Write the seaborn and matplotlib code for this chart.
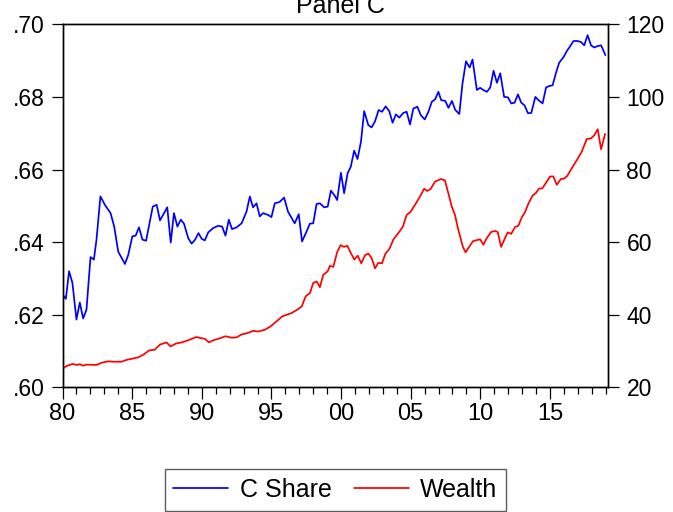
import matplotlib
matplotlib.use("Agg")
import matplotlib.pyplot as plt
import matplotlib.ticker as mticker
import seaborn as sns
import pandas as pd

# C Share (left axis)
share_year = [
    1980.00, 1980.24, 1980.47, 1980.71, 1981.00, 1981.24, 1981.48, 1981.72,
    1982.01, 1982.25, 1982.44, 1982.72, 1983.04, 1983.45, 1983.71, 1984.00,
    1984.48, 1984.72, 1985.01, 1985.25, 1985.49, 1985.74, 1986.00, 1986.48,
    1986.76, 1987.00, 1987.52, 1987.77, 1988.00, 1988.25, 1988.49, 1988.72,
    1989.03, 1989.27, 1989.52, 1989.76, 1990.00, 1990.22, 1990.46, 1990.82,
    1991.17, 1991.46, 1991.70, 1991.94, 1992.17, 1992.50, 1992.86, 1993.21,
    1993.45, 1993.68, 1993.93, 1994.16, 1994.40, 1994.76, 1995.00, 1995.24,
    1995.60, 1995.91, 1996.19, 1996.67, 1996.96, 1997.20, 1997.52, 1997.76,
    1998.00, 1998.24, 1998.48, 1998.79, 1999.04, 1999.27, 1999.56, 1999.72,
    1999.99, 2000.22, 2000.47, 2000.70, 2000.94, 2001.18, 2001.43, 2001.66,
    2001.95, 2002.19, 2002.43, 2002.70, 2002.94, 2003.20, 2003.46, 2003.70,
    2003.94, 2004.18, 2004.47, 2004.71, 2004.95, 2005.19, 2005.48, 2005.72,
    2006.01, 2006.27, 2006.52, 2006.75, 2006.99, 2007.19, 2007.48, 2007.71,
    2007.96, 2008.20, 2008.49, 2008.72, 2008.97, 2009.23, 2009.44, 2009.75,
    2009.99, 2010.22, 2010.47, 2010.71, 2010.95, 2011.19, 2011.43, 2011.71,
    2011.98, 2012.22, 2012.46, 2012.70, 2012.94, 2013.17, 2013.42, 2013.66,
    2013.95, 2014.18, 2014.47, 2014.72, 2014.95, 2015.19, 2015.43, 2015.66,
    2015.98, 2016.22, 2016.46, 2016.69, 2016.98, 2017.23, 2017.46, 2017.70,
    2017.95, 2018.18, 2018.42, 2018.67, 2018.98,
]
share = [
    .6256, .6244, .6320, .6288, .6187, .6234, .6190, .6214,
    .6359, .6352, .6407, .6526, .6503, .6480, .6443, .6374,
    .6340, .6365, .6416, .6418, .6441, .6407, .6404, .6498,
    .6503, .6460, .6496, .6399, .6480, .6443, .6462, .6451,
    .6411, .6396, .6407, .6425, .6409, .6405, .6427, .6439,
    .6445, .6443, .6418, .6462, .6436, .6441, .6452, .6484,
    .6526, .6496, .6507, .6471, .6480, .6475, .6469, .6507,
    .6511, .6523, .6484, .6452, .6477, .6402, .6429, .6451,
    .6452, .6505, .6507, .6496, .6498, .6542, .6527, .6516,
    .6591, .6535, .6590, .6608, .6652, .6629, .6677, .6761,
    .6723, .6716, .6732, .6764, .6759, .6774, .6761, .6729,
    .6752, .6743, .6756, .6759, .6724, .6768, .6773, .6750,
    .6738, .6759, .6787, .6793, .6814, .6791, .6789, .6770,
    .6789, .6764, .6753, .6837, .6898, .6881, .6903, .6819,
    .6825, .6819, .6814, .6826, .6872, .6839, .6865, .6800,
    .6799, .6782, .6784, .6807, .6784, .6777, .6755, .6756,
    .6800, .6791, .6782, .6826, .6830, .6832, .6866, .6894,
    .6910, .6927, .6940, .6954, .6954, .6951, .6942, .6970,
    .6942, .6936, .6940, .6942, .6915,
]

# Wealth (right axis)
wealth_year = [
    1980.00, 1980.29, 1980.72, 1981.01, 1981.24, 1981.48, 1981.72, 1982.44,
    1982.80, 1983.28, 1983.64, 1984.24, 1984.60, 1984.96, 1985.43, 1985.79,
    1986.22, 1986.63, 1986.99, 1987.47, 1987.76, 1988.14, 1988.55, 1989.02,
    1989.34, 1989.63, 1989.91, 1990.22, 1990.51, 1990.82, 1991.18, 1991.71,
    1992.14, 1992.50, 1992.86, 1993.29, 1993.69, 1994.05, 1994.53, 1994.89,
    1995.37, 1995.78, 1996.45, 1996.93, 1997.17, 1997.46, 1997.77, 1998.00,
    1998.25, 1998.48, 1998.72, 1999.04, 1999.20, 1999.44, 1999.73, 1999.97,
    2000.21, 2000.45, 2000.69, 2000.95, 2001.19, 2001.45, 2001.72, 2001.95,
    2002.20, 2002.44, 2002.67, 2002.94, 2003.18, 2003.48, 2003.75, 2004.07,
    2004.43, 2004.71, 2005.00, 2005.31, 2005.67, 2005.96, 2006.19, 2006.44,
    2006.75, 2007.18, 2007.46, 2007.70, 2007.95, 2008.18, 2008.42, 2008.74,
    2008.94, 2009.14, 2009.48, 2009.98, 2010.22, 2010.46, 2010.77, 2011.06,
    2011.25, 2011.49, 2011.78, 2011.97, 2012.21, 2012.50, 2012.73, 2012.97,
    2013.21, 2013.45, 2013.74, 2013.98, 2014.22, 2014.45, 2014.77, 2015.01,
    2015.24, 2015.49, 2015.78, 2016.01, 2016.25, 2016.57, 2016.93, 2017.28,
    2017.64, 2017.95, 2018.19, 2018.43, 2018.67, 2018.96,
]
wealth = [
    25.2, 25.9, 26.5, 26.2, 26.4, 26.0, 26.3, 26.2,
    26.8, 27.2, 27.1, 27.1, 27.6, 27.9, 28.3, 29.0,
    30.2, 30.4, 31.8, 32.4, 31.3, 32.1, 32.4, 33.0,
    33.5, 33.9, 33.6, 33.4, 32.4, 33.0, 33.4, 34.1,
    33.7, 33.8, 34.6, 35.0, 35.6, 35.4, 35.9, 36.7,
    38.2, 39.6, 40.5, 41.6, 42.3, 45.1, 46.0, 48.8,
    49.2, 47.6, 51.0, 52.0, 53.5, 53.2, 57.4, 59.2,
    58.7, 59.0, 57.1, 55.2, 56.3, 54.2, 56.4, 56.9,
    55.6, 52.8, 54.3, 54.2, 56.8, 58.2, 60.7, 62.3,
    64.2, 67.5, 68.4, 70.3, 72.6, 74.7, 74.1, 74.7,
    76.7, 77.4, 77.0, 73.5, 69.8, 67.5, 63.4, 58.8,
    57.2, 58.4, 60.3, 60.8, 59.3, 61.1, 62.8, 63.1,
    62.8, 58.7, 61.2, 62.7, 62.3, 64.2, 64.5, 66.8,
    68.3, 70.6, 72.8, 73.5, 74.8, 74.8, 76.7, 78.1,
    78.1, 75.8, 77.4, 77.5, 78.3, 80.4, 82.6, 84.9,
    88.4, 88.6, 89.5, 91.1, 85.6, 89.8,
]

major_years = [1980, 1985, 1990, 1995, 2000, 2005, 2010, 2015]
year_labels = ["80", "85", "90", "95", "00", "05", "10", "15"]
share_ticks = [.60, .62, .64, .66, .68, .70]
wealth_ticks = [20, 40, 60, 80, 100, 120]

df_share = pd.DataFrame({"year": share_year, "value": share})
df_wealth = pd.DataFrame({"year": wealth_year, "value": wealth})

sns.set_style("ticks")
plt.rcParams["font.family"] = ["Liberation Sans", "DejaVu Sans"]
plt.rcParams["text.color"] = "black"
plt.rcParams["xtick.color"] = "black"
plt.rcParams["ytick.color"] = "black"
plt.rcParams["axes.edgecolor"] = "black"

fig = plt.figure(figsize=(6.73, 5.12), dpi=100)
ax1 = fig.add_axes([0.0929, 0.2432, 0.811, 0.7094])
ax2 = ax1.twinx()

sns.lineplot(data=df_share, x="year", y="value", ax=ax1, color="#0000FF",
             linewidth=1.25, estimator=None, sort=False, label="C Share", legend=False)
sns.lineplot(data=df_wealth, x="year", y="value", ax=ax2, color="#FF0000",
             linewidth=1.25, estimator=None, sort=False, label="Wealth", legend=False)

ax1.set_xlim(1980, 2019.19)
ax1.set_ylim(0.60, 0.70)
ax2.set_ylim(20, 120)
ax1.set_xlabel("")
ax1.set_ylabel("")
ax2.set_ylabel("")

ax1.set_xticks(major_years)
ax1.set_xticklabels(year_labels)
ax1.xaxis.set_minor_locator(mticker.MultipleLocator(1))
ax1.set_yticks(share_ticks)
ax1.yaxis.set_major_formatter(mticker.FuncFormatter(lambda v, p: f"{v:.2f}".lstrip("0")))
ax2.set_yticks(wealth_ticks)

for ax in (ax1, ax2):
    for sp in ax.spines.values():
        sp.set_visible(True)
        sp.set_linewidth(1.0)
        sp.set_color("black")

ax1.tick_params(axis="x", which="major", direction="out", length=8.5, width=0.9,
                labelsize=17, pad=3, colors="black")
ax1.tick_params(axis="x", which="minor", direction="out", length=5, width=0.9, colors="black")
ax1.tick_params(axis="y", direction="out", length=8, width=0.9, labelsize=16.5, pad=5,
                colors="black")
ax2.tick_params(axis="y", direction="out", length=8, width=0.9, labelsize=16.5, pad=5,
                colors="black")

fig.text(340 / 673, 0.975, "Panel C", ha="center", va="baseline", fontsize=18, color="black")

handles = ax1.get_lines() + ax2.get_lines()
leg = fig.legend(handles, ["C Share", "Wealth"], loc="center",
                 bbox_to_anchor=(335.5 / 673, 1 - 490 / 512), ncol=2,
                 fontsize=18, frameon=True, fancybox=False, handlelength=2.2,
                 handletextpad=0.45, columnspacing=0.9, borderpad=0.35)
leg.get_frame().set_edgecolor("#333333")
leg.get_frame().set_linewidth(1.0)
for t in leg.get_texts():
    t.set_color("black")

fig.savefig("out.png", dpi=100)
